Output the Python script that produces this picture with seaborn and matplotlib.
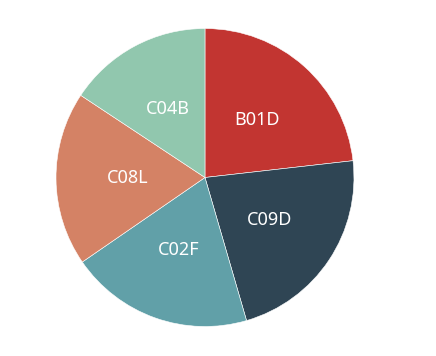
import matplotlib
matplotlib.use('Agg')
import matplotlib.pyplot as plt
import seaborn as sns

# slice values
categories = ['B01D', 'C09D', 'C02F', 'C08L', 'C04B']
values = [23.2, 22.3, 19.9, 18.9, 15.7]
colors = ['#c23531', '#2f4554', '#61a0a8', '#d48265', '#91c7ae']

sns.set_theme(style='white')
plt.rcParams['font.family'] = ['Noto Sans', 'DejaVu Sans']

fig = plt.figure(figsize=(4.36, 3.56), dpi=100)
fig.patch.set_facecolor('white')
# place the pie so its centre and radius match the reference
ax = fig.add_axes([0.1284, 0.0829, 0.6835, 0.837])

wedges, texts = ax.pie(values, labels=categories, colors=sns.color_palette(colors),
                       startangle=90, counterclock=False, labeldistance=0.52,
                       radius=1.0, wedgeprops={'linewidth': 0.4, 'edgecolor': 'white'},
                       textprops={'color': 'white', 'fontsize': 13})
for t in texts:
    t.set_ha('center')
    t.set_va('center')

ax.set_xlim(-1, 1)
ax.set_ylim(-1, 1)
ax.set_aspect('equal')
ax.axis('off')

fig.savefig('out.png', dpi=100, facecolor='white')
